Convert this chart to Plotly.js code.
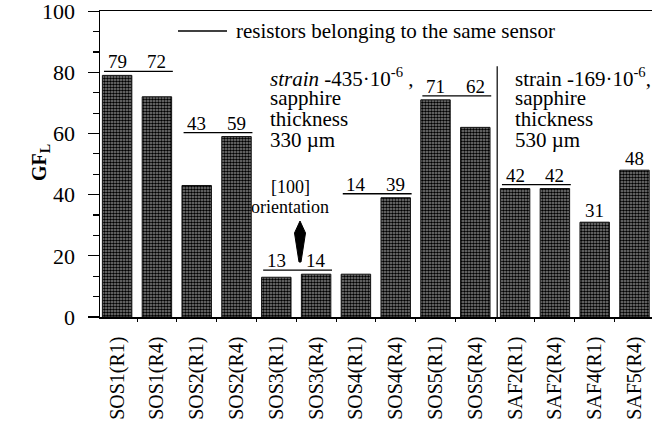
<!DOCTYPE html>
<html><head><meta charset="utf-8">
<script src="https://cdn.plot.ly/plotly-3.0.1.min.js"></script>
<style>body{margin:0;background:#fff}#chart{width:652px;height:427px}</style>
</head><body><div id="chart"></div>
<script>
// ---- data ----
const categories = ['SOS1(R1)','SOS1(R4)','SOS2(R1)','SOS2(R4)','SOS3(R1)','SOS3(R4)','SOS4(R1)','SOS4(R4)','SOS5(R1)','SOS5(R4)','SAF2(R1)','SAF2(R4)','SAF4(R1)','SAF5(R4)'];
const gf = [79,72,43,59,13,14,14,39,71,62,42,42,31,48];
const sensorPairs = [[0,1],[2,3],[4,5],[6,7],[8,9],[10,11]];
const unpairedLabels = [12,13];
const yTicks = [0,20,40,60,80,100];
const legendText = 'resistors belonging to the same sensor';
const group1Text = ['<i>strain</i> -435·10<sup>-6</sup> ,','sapphire','thickness','330 µm'];
const group2Text = ['strain -169·10<sup>-6</sup>,','sapphire','thickness','530 µm'];
const orientText = ['[100]','orientation'];

// ---- layout helpers ----
const serif = 'Liberation Serif';
const W=652,H=427,L=100,R=0,T=11,B=110;
const pw=W-L-R, ph=H-T-B;
const px = x => (x-L)/pw;
const py = y => (H-B-y)/ph;

const shapes = [];
const annotations = [];

sensorPairs.forEach(([a,b]) => {
  const top = Math.max(gf[a],gf[b]) + 1.3;
  shapes.push({type:'line',xref:'x',yref:'y',x0:a-0.33,x1:b+0.4,y0:top,y1:top,line:{color:'#000',width:1.3}});
  [a,b].forEach(i => annotations.push({xref:'x',yref:'y',x:i,y:top,text:String(gf[i]),showarrow:false,yanchor:'bottom',yshift:-3,font:{family:serif,size:19,color:'#000'}}));
});
unpairedLabels.forEach(i => annotations.push({xref:'x',yref:'y',x:i,y:gf[i],text:String(gf[i]),showarrow:false,yanchor:'bottom',yshift:-1,font:{family:serif,size:19,color:'#000'}}));

// divider between SOS and SAF groups
shapes.push({type:'line',xref:'x',yref:'y',x0:9.55,x1:9.55,y0:0,y1:82,line:{color:'#000',width:1.2}});
// legend line
shapes.push({type:'line',xref:'paper',yref:'paper',x0:px(178),x1:px(227),y0:py(31),y1:py(31),line:{color:'#000',width:1.3}});
annotations.push({xref:'paper',yref:'paper',x:px(234),y:py(31),text:legendText,showarrow:false,xanchor:'left',yanchor:'middle',font:{family:serif,size:21,color:'#000'}});

const lineY = [77,98,119,140];
group1Text.forEach((t,k)=>annotations.push({xref:'paper',yref:'paper',x:px(268),y:py(lineY[k]),text:t,showarrow:false,xanchor:'left',yanchor:'middle',font:{family:serif,size:21,color:'#000'}}));
group2Text.forEach((t,k)=>annotations.push({xref:'paper',yref:'paper',x:px(513),y:py(lineY[k]),text:t,showarrow:false,xanchor:'left',yanchor:'middle',font:{family:serif,size:21,color:'#000'}}));
const orY=[187,207];
orientText.forEach((t,k)=>annotations.push({xref:'paper',yref:'paper',x:px(290),y:py(orY[k]),text:t,showarrow:false,xanchor:'center',yanchor:'middle',font:{family:serif,size:18,color:'#000'}}));
// arrow wedge
shapes.push({type:'path',xref:'paper',yref:'paper',
  path:`M ${px(300)} ${py(221)} L ${px(305.5)} ${py(233)} L ${px(301)} ${py(262)} L ${px(299)} ${py(262)} L ${px(294.5)} ${py(233)} Z`,
  fillcolor:'#000',line:{color:'#000',width:1}});

// y title
annotations.push({xref:'paper',yref:'paper',x:px(40),y:py(163),text:'<b>GF<sub>L</sub></b>',textangle:-90,showarrow:false,xanchor:'center',yanchor:'middle',font:{family:serif,size:20,color:'#000'}});

const trace = {
  type:'bar', x:categories, y:gf, width:0.74,
  marker:{color:'#666',line:{color:'#111',width:1},
    pattern:{shape:'.',fgcolor:'#000',bgcolor:'#8a8a8a',size:3,solidity:0.6,fillmode:'replace'}},
  hoverinfo:'x+y'
};

const layout = {
  width:W,height:H,margin:{l:L,r:R,t:T,b:B},
  font:{family:serif,color:'#000'},
  paper_bgcolor:'#fff',plot_bgcolor:'#fff',showlegend:false,
  xaxis:{type:'category',range:[-0.43,13.44],showline:true,linecolor:'#000',linewidth:1.5,mirror:true,
    ticks:'outside',tickson:'boundaries',ticklen:3,tickcolor:'#000',tickangle:-90,ticklabelstandoff:10,
    tickfont:{family:serif,size:20,color:'#000'},showgrid:false,zeroline:false},
  yaxis:{range:[0,100.05],tickvals:yTicks,ticks:'outside',ticklen:11,tickwidth:1.2,tickcolor:'#000',
    minor:{dtick:20/3,ticks:'outside',ticklen:6,tickcolor:'#000'},ticklabeloverflow:'allow',
    showline:true,linecolor:'#000',linewidth:1.5,showgrid:false,zeroline:false,ticklabelstandoff:8,
    tickfont:{family:serif,size:22,color:'#000'}},
  shapes:shapes,annotations:annotations,bargap:0.26
};
Plotly.newPlot('chart',[trace],layout,{displayModeBar:false,staticPlot:true});
</script></body></html>
